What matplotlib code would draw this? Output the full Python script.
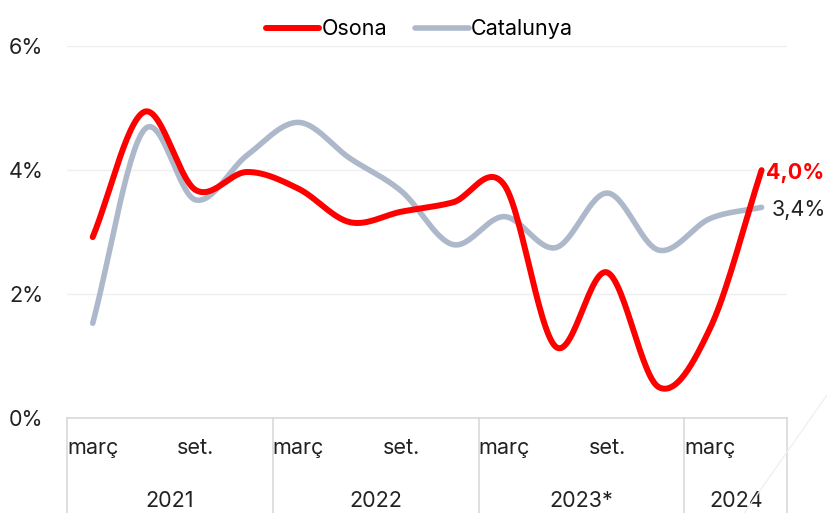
import numpy as np
import matplotlib.pyplot as plt

quarters = ["març", "juny", "set.", "des."] * 3 + ["març", "juny"]
years = ["2021", "2022", "2023*", "2024"]
year_len = [4, 4, 4, 2]
osona = [2.92, 4.94, 3.68, 3.97, 3.70, 3.16, 3.33, 3.48, 3.76, 1.15, 2.35, 0.50, 1.45, 4.0]
catalunya = [1.53, 4.65, 3.52, 4.24, 4.77, 4.19, 3.66, 2.80, 3.25, 2.75, 3.63, 2.71, 3.22, 3.4]

plt.rcParams['font.family'] = ['Inter', 'DejaVu Sans']
FS = 15.5


def smooth(y, n=30):
    # catmull-rom, like excel's smoothed line
    y = np.asarray(y, dtype=float)
    p = np.concatenate([[2 * y[0] - y[1]], y, [2 * y[-1] - y[-2]]])
    xs, ys = [], []
    for i in range(len(y) - 1):
        p0, p1, p2, p3 = p[i], p[i + 1], p[i + 2], p[i + 3]
        t = np.linspace(0, 1, n, endpoint=False)
        v = 0.5 * (2 * p1 + (-p0 + p2) * t + (2 * p0 - 5 * p1 + 4 * p2 - p3) * t ** 2
                   + (-p0 + 3 * p1 - 3 * p2 + p3) * t ** 3)
        xs.append(i + t)
        ys.append(v)
    xs.append([len(y) - 1])
    ys.append([y[-1]])
    return np.concatenate(xs), np.concatenate(ys)


fig = plt.figure(figsize=(8.27, 5.13), dpi=100)
ax = fig.add_axes([0.081, 0.185, 0.871, 0.725])

x = np.arange(len(osona))
sx, sy = smooth(osona)
ax.plot(sx, sy, color="#ff0000", lw=4.3, solid_capstyle="round", label="Osona", zorder=3)
cx, cy = smooth(catalunya)
ax.plot(cx, cy, color="#adb9ca", lw=4.0, solid_capstyle="round", label="Catalunya", zorder=2)

ax.set_xlim(-0.5, len(osona) - 0.5)
ax.set_ylim(0, 6)
ax.set_yticks([0, 2, 4, 6])
ax.set_yticklabels(["0%", "2%", "4%", "6%"], fontsize=FS, color="#222222")
ax.tick_params(axis="y", length=0, pad=17)
ax.grid(axis="y", color="#efefef", lw=1)
ax.set_axisbelow(True)
for s in ["top", "right", "left"]:
    ax.spines[s].set_visible(False)
ax.spines["bottom"].set_color("#d9d9d9")
ax.spines["bottom"].set_linewidth(1.2)

ax.set_xticks(x)
ax.set_xticklabels([q if q in ("març", "set.") else "" for q in quarters], fontsize=FS, color="#222222")
ax.tick_params(axis="x", length=0, pad=14)

# year group boxes
edge = -0.5
for yr, n in zip(years, year_len):
    ax.plot([edge, edge], [0, -0.255], transform=ax.get_xaxis_transform(),
            color="#d9d9d9", lw=1.2, clip_on=False)
    ax.text(edge + n / 2, -0.223, yr, transform=ax.get_xaxis_transform(),
            ha="center", va="center", fontsize=FS, color="#222222")
    edge += n
ax.plot([edge, edge], [0, -0.255], transform=ax.get_xaxis_transform(),
        color="#d9d9d9", lw=1.2, clip_on=False)

ax.text(x[-1] + 0.08, osona[-1] - 0.05, "4,0%", color="#ff0000", fontsize=FS,
        fontweight="bold", va="center", ha="left")
ax.text(x[-1] + 0.2, catalunya[-1] - 0.05, "3,4%", color="#222222", fontsize=FS,
        va="center", ha="left")

fig.legend(loc="upper center", bbox_to_anchor=(0.507, 1.0), ncol=2, frameon=False,
           fontsize=FS, handlelength=2.5, handletextpad=0.1, columnspacing=1.3)

# faint decoration bottom right
fig.add_artist(plt.Line2D([1.0, 0.9], [0.23, 0.0], transform=fig.transFigure,
                          color="#f0f0f0", lw=1))

fig.savefig("out.png", dpi=100)
